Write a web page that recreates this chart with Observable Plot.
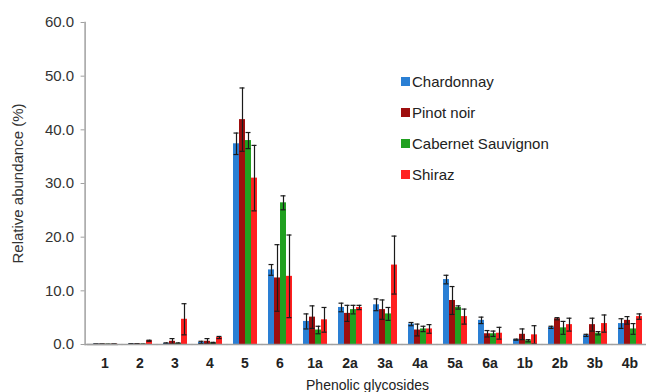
<!DOCTYPE html>
<html>
<head>
<meta charset="utf-8">
<script src="https://cdn.jsdelivr.net/npm/d3@7"></script>
<script src="https://cdn.jsdelivr.net/npm/@observablehq/plot@0.6"></script>
<style>
  html, body { margin: 0; padding: 0; background: #fff; }
  #wrap { position: relative; width: 646px; height: 392px; overflow: hidden; font-family: "Liberation Sans", Arial, sans-serif; }
  #legend { position: absolute; left: 401px; top: 66px; font-size: 15px; color: #222; }
  #legend .item { height: 31px; line-height: 31px; display: flex; align-items: center; white-space: nowrap; }
  #legend .sw { width: 9px; height: 9px; margin-right: 2px; flex: none; }
  g[aria-label="fx-axis tick label"] { font-weight: bold; }
</style>
</head>
<body>
<div id="wrap"></div>
<script>
const categories = ["1","2","3","4","5","6","1a","2a","3a","4a","5a","6a","1b","2b","3b","4b"];
const varieties = ["Chardonnay","Pinot noir","Cabernet Sauvignon","Shiraz"];
const colors = ["#2a7fd4","#9e0e0e","#20a020","#ff2020"];

const chardonnay    = [0.1, 0.1, 0.2, 0.4, 37.4, 13.9, 4.3, 6.9, 7.4, 3.8, 12.1, 4.5, 0.9, 3.2, 1.7, 3.9];
const chardonnayErr = [0.05,0.05,0.1, 0.2, 2.0,  1.0,  1.4, 0.8, 1.1, 0.3, 0.8,  0.6, 0.1, 0.2, 0.2, 0.9];
const pinotNoir     = [0.1, 0.1, 0.6, 0.6, 41.9, 12.4, 5.1, 5.8, 6.5, 2.7, 8.2,  2.0, 1.9, 4.8, 3.7, 4.5];
const pinotNoirErr  = [0.05,0.05,0.5, 0.5, 5.9,  6.2,  2.1, 1.5, 1.8, 1.1, 2.6,  0.6, 1.0, 0.2, 1.2, 0.7];
const cabernet      = [0.05,0.05,0.2, 0.3, 38.0, 26.4, 2.7, 6.5, 5.7, 2.9, 6.9,  2.0, 0.7, 3.1, 2.1, 2.9];
const cabernetErr   = [0.02,0.02,0.1, 0.1, 1.5,  1.3,  0.7, 0.8, 1.2, 0.5, 0.3,  0.5, 0.2, 1.2, 0.3, 1.0];
const shiraz        = [0.1, 0.7, 4.7, 1.3, 31.0, 12.7, 4.6, 6.9, 14.8,2.9, 5.2,  2.1, 1.8, 3.7, 3.9, 5.2];
const shirazErr     = [0.05,0.1, 2.9, 0.2, 6.1,  7.7,  2.3, 0.4, 5.4, 0.8, 1.4,  1.1, 1.7, 1.2, 1.6, 0.5];

const yTicks = [0, 10, 20, 30, 40, 50, 60];

const values = [chardonnay, pinotNoir, cabernet, shiraz];
const errors = [chardonnayErr, pinotNoirErr, cabernetErr, shirazErr];
const rows = categories.flatMap((c, i) => varieties.map((v, j) => ({
  category: c, variety: v, value: values[j][i], err: errors[j][i]
})));

const chart = Plot.plot({
  width: 646,
  height: 392,
  marginLeft: 87,
  marginRight: 0,
  marginTop: 22,
  marginBottom: 48,
  style: { fontFamily: "'Liberation Sans', Arial, sans-serif", fontSize: "15px", color: "#333", background: "transparent" },
  fx: { domain: categories, paddingInner: 0.23, paddingOuter: 0 },
  x: { domain: varieties, padding: 0, axis: null },
  y: { domain: [0, 60] },
  color: { domain: varieties, range: colors },
  marks: [
    Plot.barY(rows, { fx: "category", x: "variety", y: "value", fill: "variety" }),
    Plot.ruleX(rows, { fx: "category", x: "variety", y1: d => Math.max(0, d.value - d.err), y2: d => d.value + d.err, stroke: "#1a1a1a", strokeWidth: 1.2 }),
    Plot.tickY(rows, { fx: "category", x: "variety", y: d => d.value + d.err, stroke: "#1a1a1a", strokeWidth: 1.2, insetLeft: 0.5, insetRight: 0.5 }),
    Plot.tickY(rows, { fx: "category", x: "variety", y: d => Math.max(0, d.value - d.err), stroke: "#1a1a1a", strokeWidth: 1.2, insetLeft: 0.5, insetRight: 0.5 }),
    Plot.ruleY([0], { stroke: "#a0a0a0", strokeWidth: 1.5, insetLeft: -4.2, insetRight: -4.2 }),
    Plot.ruleY([0], { stroke: "#a0a0a0", strokeWidth: 1.5, insetLeft: -6.5, facetAnchor: "left" }),
    Plot.frame({ anchor: "left", facetAnchor: "left", stroke: "#a0a0a0", strokeWidth: 1.5, dx: -6.4 }),
    Plot.axisY({
      ticks: yTicks, tickFormat: d => d.toFixed(1), tickSize: 4, tickPadding: 7,
      dx: -6.4, stroke: "#a0a0a0", fill: "#333",
      label: "Relative abundance (%)", labelAnchor: "center", labelOffset: 79, labelArrow: "none"
    }),
    Plot.axisFx({
      anchor: "bottom", tickSize: 0, tickPadding: 14, fill: "#222", fontSize: 14,
      label: "Phenolic glycosides", labelAnchor: "center", labelOffset: 45, labelArrow: "none"
    })
  ]
});

const wrap = document.getElementById("wrap");
wrap.appendChild(chart);

const legend = document.createElement("div");
legend.id = "legend";
varieties.forEach((v, i) => {
  const item = document.createElement("div");
  item.className = "item";
  const sw = document.createElement("span");
  sw.className = "sw";
  sw.style.background = colors[i];
  const label = document.createElement("span");
  label.textContent = v;
  item.appendChild(sw);
  item.appendChild(label);
  legend.appendChild(item);
});
wrap.appendChild(legend);
</script>
</body>
</html>
